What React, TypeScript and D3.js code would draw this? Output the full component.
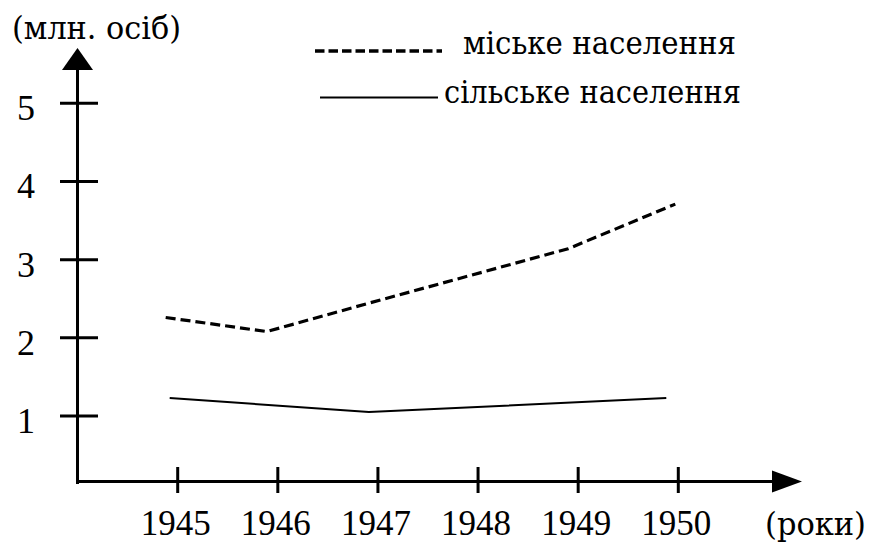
import React from 'react';
import { scaleLinear, line } from 'd3';

// values (x in years, hand drawn so not exactly on ticks)
const years = [1945, 1946, 1947, 1948, 1949, 1950];
const yTicks = [1, 2, 3, 4, 5];
const urbanX = [1944.88, 1945.89, 1946.9, 1947.9, 1948.9, 1949.97];
const urbanY = [2.26, 2.08, 2.44, 2.79, 3.14, 3.71];
const ruralX = [1944.92, 1946.91, 1949.88];
const ruralY = [1.23, 1.05, 1.23];
const legendLabels = ['міське населення', 'сільське населення'];

const W = 872;
const H = 544;
const FONT = '"Liberation Serif", "Times New Roman", serif';
// Liberation Serif here has no cyrillic, so those labels use DejaVu Serif squeezed to width
const CYR = '"DejaVu Serif", serif';

const App = () => {
  const x = scaleLinear().domain([1945, 1950]).range([177.7, 678.3]);
  const y = scaleLinear().domain([1, 5]).range([416, 103.3]);

  const axisX = 77.5;
  const axisY = 481.5;

  const urban = urbanX.map((v, i) => [v, urbanY[i]] as [number, number]);
  const rural = ruralX.map((v, i) => [v, ruralY[i]] as [number, number]);

  const gen = line<[number, number]>()
    .x((d) => x(d[0]))
    .y((d) => y(d[1]));

  return (
    <svg
      width={W}
      height={H}
      style={{ position: 'absolute', left: 0, top: 0, background: '#fff' }}
      fontFamily={FONT}
      fontSize={36}
    >
      {/* y axis */}
      <line x1={axisX} y1={axisY + 2.5} x2={axisX} y2={68} stroke="#000" strokeWidth={3} />
      <path d={`M${axisX},48 L${axisX - 15.5},70 L${axisX + 15.5},70 Z`} fill="#000" />
      {yTicks.map((t) => (
        <g key={t}>
          <line x1={60} x2={98} y1={y(t)} y2={y(t)} stroke="#000" strokeWidth={3} />
          <text x={26} y={y(t) + 17} textAnchor="middle">{t}</text>
        </g>
      ))}
      <text x={12} y={39} fontFamily={CYR} fontSize={31} textLength={169} lengthAdjust="spacingAndGlyphs">
        (млн. осіб)
      </text>

      {/* x axis */}
      <line x1={axisX - 1.5} y1={axisY} x2={775} y2={axisY} stroke="#000" strokeWidth={3} />
      <path d={`M802,${axisY} L772,${axisY - 11} L772,${axisY + 11} Z`} fill="#000" />
      {years.map((yr) => (
        <g key={yr}>
          <line x1={x(yr)} x2={x(yr)} y1={467} y2={493} stroke="#000" strokeWidth={3} />
          <text x={x(yr) - 2} y={535} fontSize={35} textAnchor="middle">{yr}</text>
        </g>
      ))}
      <text x={765} y={535} fontFamily={CYR} fontSize={31} textLength={101} lengthAdjust="spacingAndGlyphs">
        (роки)
      </text>

      {/* series */}
      <path d={gen(urban) || ''} fill="none" stroke="#000" strokeWidth={3.2} strokeDasharray="10,5" />
      <path d={gen(rural) || ''} fill="none" stroke="#000" strokeWidth={2} />

      {/* legend */}
      <line x1={315} x2={442} y1={51} y2={51} stroke="#000" strokeWidth={3.5} strokeDasharray="9.5,4" />
      <text x={463} y={54} fontFamily={CYR} fontSize={31} textLength={273} lengthAdjust="spacingAndGlyphs">
        {legendLabels[0]}
      </text>
      <line x1={320} x2={438} y1={97.5} y2={97.5} stroke="#000" strokeWidth={2} />
      <text x={444} y={102.5} fontFamily={CYR} fontSize={31} textLength={297} lengthAdjust="spacingAndGlyphs">
        {legendLabels[1]}
      </text>
    </svg>
  );
};

export default App;
